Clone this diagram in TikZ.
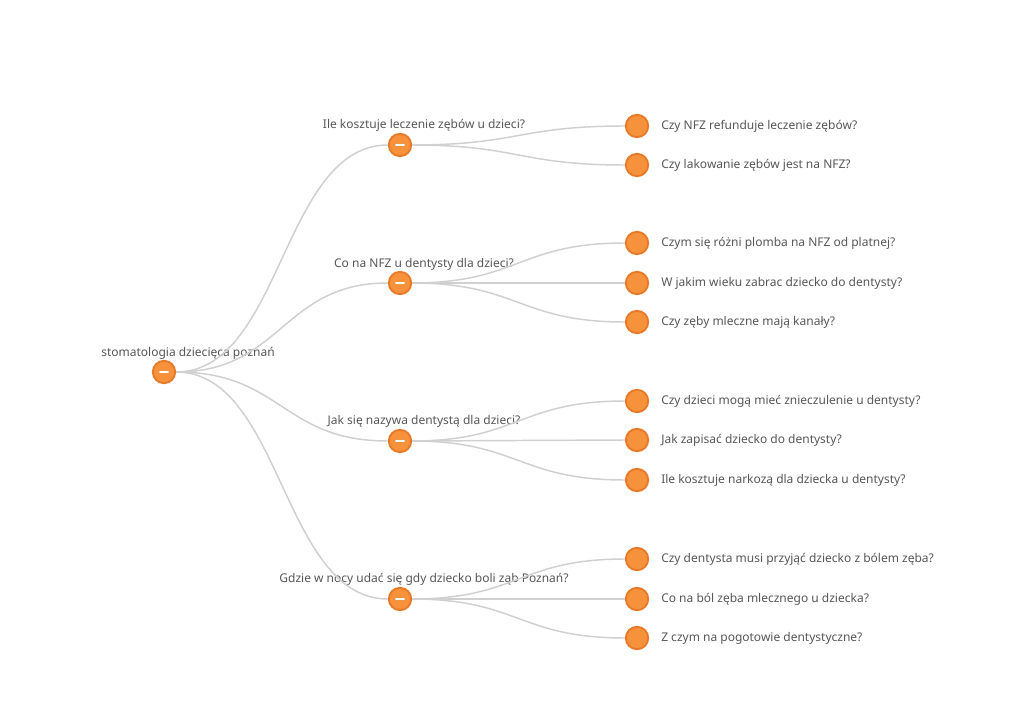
\documentclass[tikz,border=0pt]{standalone}
\usepackage{fontspec}
\setmainfont{Noto Sans}
\usetikzlibrary{positioning}
\definecolor{nodeorange}{RGB}{247,146,60}
\definecolor{nodeborder}{RGB}{232,121,40}
\definecolor{linkgray}{RGB}{208,208,208}
\definecolor{textgray}{RGB}{88,88,88}

\begin{document}
\begin{tikzpicture}[
  x=0.75pt, y=-0.75pt,
  nd/.style={circle, draw=nodeborder, fill=nodeorange, line width=1.4pt,
             inner sep=0pt, minimum size=16.8pt},
  open/.style={path picture={\draw[white, line width=2.2pt, line cap=round]
             ([xshift=-2.8pt]path picture bounding box.center) --
             ([xshift=2.8pt]path picture bounding box.center);}},
  txt/.style={font=\fontsize{9}{11}\selectfont, text=textgray, inner sep=0pt},
  link/.style={draw=linkgray, line width=1.1pt},
]
  \fill[white] (0,0) rectangle (1024,709);

  % Root
  \node[nd, open] (root) at (164,372) {};
  \node[txt] (troot) at (188,353) {stomatologia dziecięca poznań};

  % Questions
  \node[nd, open] (q1) at (400,145) {};
  \node[txt] (tq1) at (424,125) {Ile kosztuje leczenie zębów u dzieci?};
  \node[nd, open] (q2) at (400,283) {};
  \node[txt] (tq2) at (424,264) {Co na NFZ u dentysty dla dzieci?};
  \node[nd, open] (q3) at (400,441) {};
  \node[txt] (tq3) at (424,421) {Jak się nazywa dentystą dla dzieci?};
  \node[nd, open] (q4) at (400,599) {};
  \node[txt] (tq4) at (424,579) {Gdzie w nocy udać się gdy dziecko boli ząb Poznań?};

  \draw[link] (root) .. controls +(118,0) and +(-118,0) .. (q1);
  \draw[link] (root) .. controls +(118,0) and +(-118,0) .. (q2);
  \draw[link] (root) .. controls +(118,0) and +(-118,0) .. (q3);
  \draw[link] (root) .. controls +(118,0) and +(-118,0) .. (q4);

  % Leaves under q1
  \node[nd] (a1) at (637,126) {};
  \node[txt, anchor=west] (ta1) at (661,126) {Czy NFZ refunduje leczenie zębów?};
  \node[nd] (a2) at (637,165) {};
  \node[txt, anchor=west] (ta2) at (661,165) {Czy lakowanie zębów jest na NFZ?};
  \draw[link] (q1) .. controls +(118,0) and +(-118,0) .. (a1);
  \draw[link] (q1) .. controls +(118,0) and +(-118,0) .. (a2);

  % Leaves under q2
  \node[nd] (b1) at (637,243) {};
  \node[txt, anchor=west] (tb1) at (661,243) {Czym się różni plomba na NFZ od platnej?};
  \node[nd] (b2) at (637,283) {};
  \node[txt, anchor=west] (tb2) at (661,283) {W jakim wieku zabrac dziecko do dentysty?};
  \node[nd] (b3) at (637,322) {};
  \node[txt, anchor=west] (tb3) at (661,322) {Czy zęby mleczne mają kanały?};
  \draw[link] (q2) .. controls +(118,0) and +(-118,0) .. (b1);
  \draw[link] (q2) .. controls +(118,0) and +(-118,0) .. (b2);
  \draw[link] (q2) .. controls +(118,0) and +(-118,0) .. (b3);

  % Leaves under q3
  \node[nd] (c1) at (637,401) {};
  \node[txt, anchor=west] (tc1) at (661,401) {Czy dzieci mogą mieć znieczulenie u dentysty?};
  \node[nd] (c2) at (637,440) {};
  \node[txt, anchor=west] (tc2) at (661,440) {Jak zapisać dziecko do dentysty?};
  \node[nd] (c3) at (637,480) {};
  \node[txt, anchor=west] (tc3) at (661,480) {Ile kosztuje narkozą dla dziecka u dentysty?};
  \draw[link] (q3) .. controls +(118,0) and +(-118,0) .. (c1);
  \draw[link] (q3) .. controls +(118,0) and +(-118,0) .. (c2);
  \draw[link] (q3) .. controls +(118,0) and +(-118,0) .. (c3);

  % Leaves under q4
  \node[nd] (d1) at (637,559) {};
  \node[txt, anchor=west] (td1) at (661,559) {Czy dentysta musi przyjąć dziecko z bólem zęba?};
  \node[nd] (d2) at (637,599) {};
  \node[txt, anchor=west] (td2) at (661,599) {Co na ból zęba mlecznego u dziecka?};
  \node[nd] (d3) at (637,638) {};
  \node[txt, anchor=west] (td3) at (661,638) {Z czym na pogotowie dentystyczne?};
  \draw[link] (q4) .. controls +(118,0) and +(-118,0) .. (d1);
  \draw[link] (q4) .. controls +(118,0) and +(-118,0) .. (d2);
  \draw[link] (q4) .. controls +(118,0) and +(-118,0) .. (d3);
\end{tikzpicture}
\end{document}
